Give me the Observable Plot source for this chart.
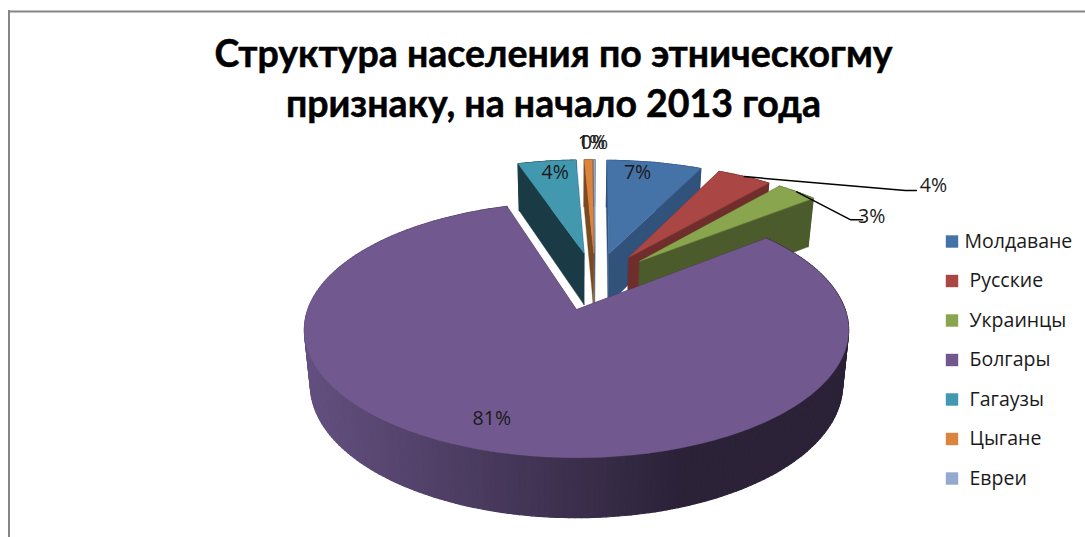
<!DOCTYPE html>
<html><head><meta charset="utf-8">
<script src="https://cdn.jsdelivr.net/npm/d3@7"></script>
<script src="https://cdn.jsdelivr.net/npm/@observablehq/plot@0.6"></script>
<style>html,body{margin:0;padding:0;background:#fff}svg{display:block}</style>
</head><body>
<div id="chart"></div>
<script>
const titleLines = ["Структура населения по этническогму", "признаку, на начало 2013 года"];
const groups = ["Молдаване", "Русские", "Украинцы", "Болгары", "Гагаузы", "Цыгане", "Евреи"];
const shares = [7, 4, 3, 81, 4.3, 0.6, 0.1];
const topColors = ["#4572A7", "#AA4643", "#89A54E", "#71588F", "#4198AF", "#DB843D", "#93A9CF"];
const sideColors = ["#31527A", "#6F2E2C", "#4C5B2B", "#2B2238", "#1A3B46", "#7A4A20", "#52617A"];

// 3D projection of the exploded pie
const cx = 576, cy = 309, persp = 0.16, ay = 124.5, ax = 268.6, explode = 0.25, startAngle = 0.011;
const total = d3.sum(shares);
let run = 0;
const slices = shares.map((v, i) => {
  const a0 = startAngle + run / total * 2 * Math.PI; run += v;
  const a1 = startAngle + run / total * 2 * Math.PI;
  const mid = (a0 + a1) / 2;
  return {i, v, a0, a1, mid, ou: explode * Math.sin(mid), ov: explode * Math.cos(mid)};
});
const ref = slices[3];
function project(s, r, a) {
  const u = s.ou + r * Math.sin(a) - ref.ou, v = s.ov + r * Math.cos(a) - ref.ov;
  const w = 1 + persp * v;
  return {x: cx + ax * u / w, y: cy - ay * v / w, v};
}
function lower(p) {
  return {x: 575 + (p.x - 575) * 0.978, y: p.y + 53.8 / (1 + 0.103 * p.v)};
}
const polygons = [];
let pid = 0;
function addPoly(pts, fill, sw) { const id = pid++; pts.forEach(p => polygons.push({x: p.x, y: p.y, id, fill, sw})); }
const shade = d3.scaleLinear().domain([303, 680]).range(["#645080", "#2B2238"]).clamp(true);
for (const i of [0, 6, 4, 5, 1, 2, 3]) {
  const s = slices[i];
  if (!s.v) continue;
  const n = Math.max(2, Math.ceil((s.a1 - s.a0) / 0.02));
  const rim = d3.range(n + 1).map(k => project(s, 1, s.a0 + (s.a1 - s.a0) * k / n));
  const apex = project(s, 0, 0);
  const side = sideColors[i];
  for (let k = 0; k < n; k++) {
    const a = rim[k], b = rim[k + 1];
    addPoly([a, b, lower(b), lower(a)], i === 3 ? d3.color(shade((a.x + b.x) / 2)).formatHex() : side, 1.2);
  }
  addPoly([apex, rim[n], lower(rim[n]), lower(apex)], side, 0.4);
  addPoly([apex, rim[0], lower(rim[0]), lower(apex)], side, 0.4);
  addPoly([apex, ...rim], topColors[i], 0.4);
}

// value labels: radial placement on the slice, in fractions of the radius
const pct = v => Math.round(v) + "%";
const labelTurn = {0: -0.06, 3: 0.05, 4: 0.02};
const labels = slices.map(s => {
  const p = project(s, s.i === 3 ? 0.82 : 0.86, s.mid + (labelTurn[s.i] || 0));
  return {x: p.x, y: p.y, text: pct(s.v)};
});
// outside labels with leaders
const leaders = [];
[[1, 161, 14, 11, 17, -5], [2, 54, 28, 12, 9, -3]].forEach(([i, dx, dy, run2, gap, up]) => {
  const s = slices[i], p = project(s, 1, s.mid);
  [p, {x: p.x + dx, y: p.y + dy}, {x: p.x + dx + run2, y: p.y + dy}].forEach(q => leaders.push({x: q.x, y: q.y, id: i}));
  labels[i] = {x: p.x + dx + run2 + gap, y: p.y + dy + up, text: pct(s.v)};
});
labels[5].x = 591; labels[5].y = 142;
labels[6].x = 594; labels[6].y = 142;

const legendRows = groups.map((g, i) => ({g, i, c: topColors[i], row: 241 + i * 39.5, tx: i === 0 ? 964 : 969}));
const font = "'Open Sans', Lato, sans-serif";

const plot = Plot.plot({
  width: 1085, height: 537, margin: 0,
  x: {domain: [0, 1085], range: [0, 1085], axis: null},
  y: {domain: [0, 537], range: [0, 537], axis: null},
  color: {type: "identity"},
  style: {background: "#fff", fontFamily: font},
  marks: [
    Plot.ruleX([8.5], {y1: 10, y2: 537, stroke: "#868686", strokeWidth: 2}),
    Plot.ruleY([11], {x1: 8, x2: 1085, stroke: "#868686", strokeWidth: 2}),
    Plot.line(polygons, {x: "x", y: "y", z: "id", fill: "fill", stroke: "fill", strokeWidth: "sw", curve: "linear-closed"}),
    Plot.line(leaders, {x: "x", y: "y", z: "id", stroke: "#000", strokeWidth: 1.5, curve: "linear"}),
    Plot.text(labels, {x: "x", y: "y", text: "text", fontSize: 19.5, fill: "#1a1a1a", textAnchor: "middle", lineAnchor: "middle"}),
    Plot.text(titleLines, {x: () => 553, y: (d, i) => 54 + i * 50, text: d => d, fontFamily: "Lato, sans-serif", fontSize: 37.5, fontWeight: 700, fill: "#000", stroke: "#000", strokeWidth: 0.5, textAnchor: "middle", lineAnchor: "middle"}),
    Plot.dot(legendRows, {x: () => 951.5, y: "row", symbol: "square", r: 7, fill: "c", stroke: "none"}),
    Plot.text(legendRows, {x: "tx", y: "row", text: "g", fontSize: 19.5, fill: "#1a1a1a", textAnchor: "start", lineAnchor: "middle"})
  ]
});
document.getElementById("chart").appendChild(plot);
</script>
</body></html>
